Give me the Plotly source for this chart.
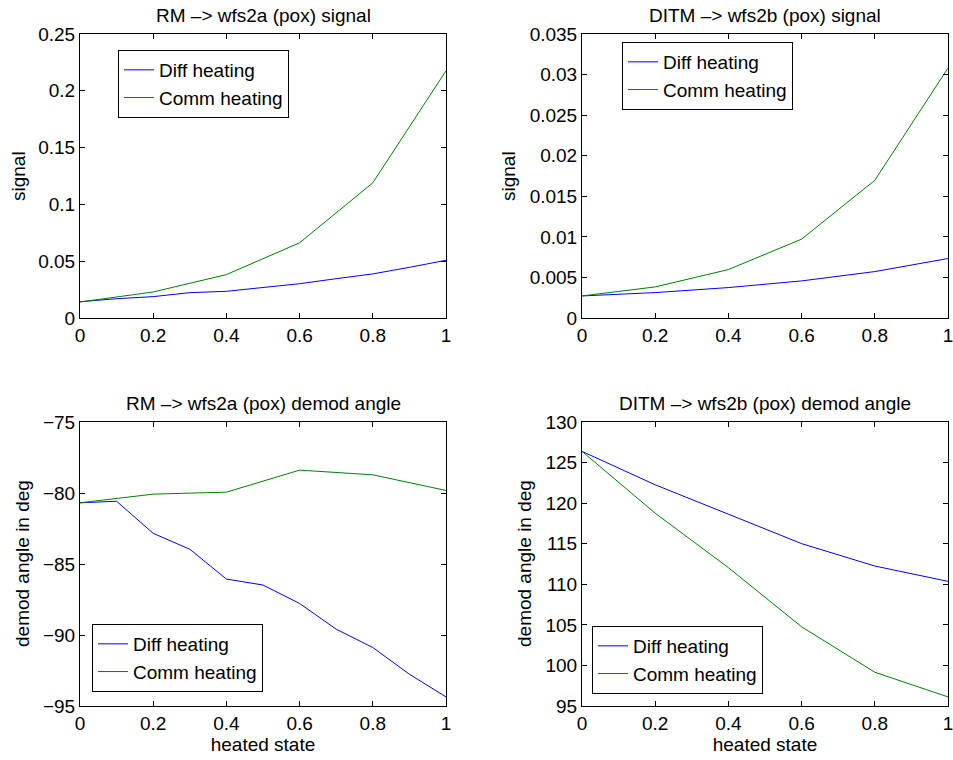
import plotly.graph_objects as go

# ---- data ----
x_fine = [0, 0.1, 0.2, 0.3, 0.4, 0.5, 0.6, 0.7, 0.8, 0.9, 1.0]
x_coarse = [0, 0.2, 0.4, 0.6, 0.8, 1.0]

rm_sig_diff = [0.0143, 0.0170, 0.0188, 0.0223, 0.0235, 0.0270, 0.0302, 0.0346, 0.0388, 0.0446, 0.0508]
rm_sig_comm = [0.0141, 0.0229, 0.0382, 0.0662, 0.1190, 0.2176]

ditm_sig_diff = [0.00272, 0.00313, 0.00375, 0.00457, 0.00572, 0.00733]
ditm_sig_comm = [0.00272, 0.00383, 0.00597, 0.00972, 0.01697, 0.03080]

rm_ang_diff = [-80.69, -80.58, -82.84, -83.96, -86.06, -86.48, -87.78, -89.59, -90.88, -92.76, -94.36]
rm_ang_comm = [-80.69, -80.08, -79.94, -78.39, -78.72, -79.82]

ditm_ang_diff = [126.38, 122.26, 118.64, 115.01, 112.25, 110.36]
ditm_ang_comm = [126.38, 118.76, 112.05, 104.76, 99.16, 96.12]

titles = ["RM \u2013> wfs2a (pox) signal", "DITM \u2013> wfs2b (pox) signal",
          "RM \u2013> wfs2a (pox) demod angle", "DITM \u2013> wfs2b (pox) demod angle"]
series_names = ["Diff heating", "Comm heating"]
x_ticks = [0, 0.2, 0.4, 0.6, 0.8, 1.0]
x_ticktext = ["0", "0.2", "0.4", "0.6", "0.8", "1"]

BLUE = "#0000ff"
GREEN = "#008000"
FONT = "Liberation Sans, Arial, Helvetica, sans-serif"
FS = 19
FS_LEG = 19

W, H = 953, 760
def px_x(v):
    return v / W
def px_y(v):
    return 1 - v / H

dom_left = [px_x(80), px_x(446)]
dom_right = [px_x(582), px_x(948)]
dom_top = [px_y(318), px_y(34)]
dom_bot = [px_y(706), px_y(422)]

fig = go.Figure()

panels = [
    dict(xd=dom_left, yd=dom_top, xs=(x_fine, x_coarse), ys=(rm_sig_diff, rm_sig_comm),
         yr=[0, 0.25], ydt=0.05, ylab="signal", ylab_x=18, leg=(118, 50), xlab=None),
    dict(xd=dom_right, yd=dom_top, xs=(x_coarse, x_coarse), ys=(ditm_sig_diff, ditm_sig_comm),
         yr=[0, 0.035], ydt=0.005, ylab="signal", ylab_x=508, leg=(622, 42), xlab=None),
    dict(xd=dom_left, yd=dom_bot, xs=(x_fine, x_coarse), ys=(rm_ang_diff, rm_ang_comm),
         yr=[-95, -75], ydt=5, ylab="demod angle in deg", ylab_x=22, leg=(92, 624),
         xlab="heated state"),
    dict(xd=dom_right, yd=dom_bot, xs=(x_coarse, x_coarse), ys=(ditm_ang_diff, ditm_ang_comm),
         yr=[95, 130], ydt=5, ylab="demod angle in deg", ylab_x=524, leg=(592, 626),
         xlab="heated state"),
]

layout = dict(
    width=W, height=H,
    margin=dict(l=0, r=0, t=0, b=0, autoexpand=False),
    paper_bgcolor="white", plot_bgcolor="white",
    font=dict(family=FONT, size=FS, color="black"),
    showlegend=True,
    annotations=[],
)

for i, p in enumerate(panels):
    n = i + 1
    xa = "x" if n == 1 else f"x{n}"
    ya = "y" if n == 1 else f"y{n}"
    lg = "legend" if n == 1 else f"legend{n}"
    for k, (xs, ys, col) in enumerate(zip(p["xs"], p["ys"], [BLUE, GREEN])):
        fig.add_trace(go.Scatter(
            x=xs, y=ys, mode="lines", name=series_names[k],
            line=dict(color=col, width=1), xaxis=xa, yaxis=ya, legend=lg,
            showlegend=True,
        ))
    axis_common = dict(showgrid=False, zeroline=False, showline=True, linecolor="black",
                       linewidth=1, mirror="ticks", ticks="inside", ticklen=5,
                       tickcolor="black", automargin=False, ticklabeloverflow="allow",
                       tickfont=dict(family=FONT, size=FS, color="black"))
    layout[f"xaxis{'' if n == 1 else n}"] = dict(
        domain=p["xd"], anchor=ya, range=[0, 1], tickvals=x_ticks, ticktext=x_ticktext,
        title=dict(text=p["xlab"] or "", font=dict(size=FS), standoff=0),
        **axis_common)
    layout[f"yaxis{'' if n == 1 else n}"] = dict(
        domain=p["yd"], anchor=xa, range=p["yr"], dtick=p["ydt"], tick0=p["yr"][0],
        **axis_common)
    lx, ly = p["leg"]
    layout[lg] = dict(
        x=px_x(lx), y=px_y(ly), xanchor="left", yanchor="top",
        bordercolor="black", borderwidth=1, bgcolor="white",
        font=dict(family=FONT, size=FS_LEG), tracegroupgap=0, itemwidth=30,
    )
    # subplot title
    layout["annotations"].append(dict(
        text=titles[i], x=(p["xd"][0] + p["xd"][1]) / 2, y=p["yd"][1],
        xref="paper", yref="paper", xanchor="center", yanchor="bottom",
        yshift=6, showarrow=False, font=dict(family=FONT, size=FS, color="black"),
    ))
    # y-axis title
    layout["annotations"].append(dict(
        text=p["ylab"], x=px_x(p["ylab_x"]), y=(p["yd"][0] + p["yd"][1]) / 2,
        xref="paper", yref="paper", xanchor="center", yanchor="middle",
        textangle=-90, showarrow=False, font=dict(family=FONT, size=FS, color="black"),
    ))

fig.update_layout(**layout)
fig.write_html(
    "out.html",
    config={"displayModeBar": False},
    post_script="document.body.style.margin='0';document.body.style.overflow='hidden';",
)
